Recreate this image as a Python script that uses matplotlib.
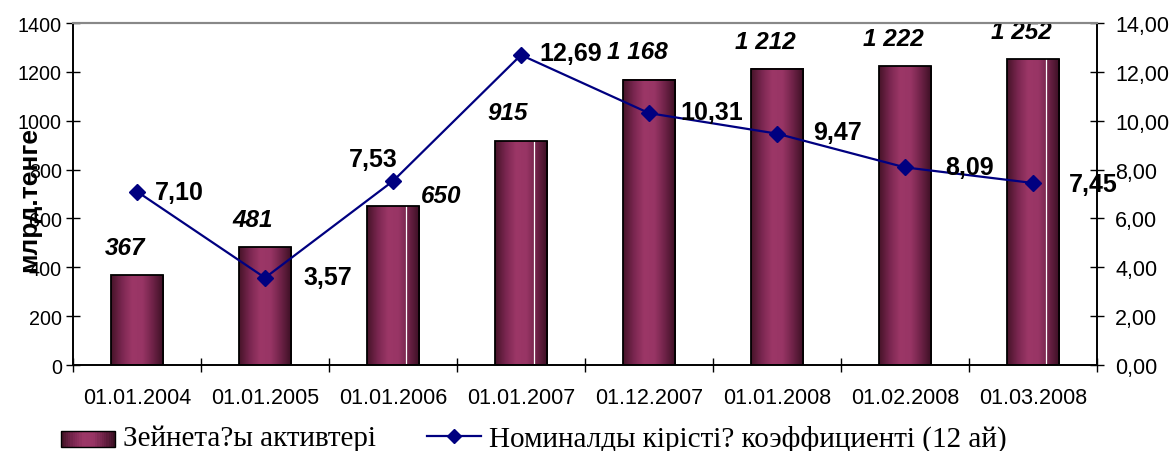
"""Pension assets (bars) and nominal yield coefficient (line), twin y axes."""

import numpy as np
import matplotlib.pyplot as plt
from matplotlib.colors import LinearSegmentedColormap
from matplotlib.legend_handler import HandlerBase
from matplotlib.patches import Rectangle
from matplotlib.lines import Line2D
from matplotlib.ticker import FuncFormatter, MultipleLocator

# ------------------------------
# Data
# ------------------------------

dates = ["01.01.2004", "01.01.2005", "01.01.2006", "01.01.2007",
         "01.12.2007", "01.01.2008", "01.02.2008", "01.03.2008"]
assets = [367, 481, 650, 915, 1168, 1212, 1222, 1252]
coef = [7.10, 3.57, 7.53, 12.69, 10.31, 9.47, 8.09, 7.45]

bar_label_off = [(-12, 28), (-12, 28), (48, 11), (-13, 29),
                 (-12, 28), (-12, 27), (-12, 28), (-12, 28)]
line_label_off = [(42, 0), (63, 1), (-20, 22), (50, 2),
                  (63, 1), (60, 2), (65, 0), (60, -1)]
# bars that show a thin white streak in the original rendering
streak_bars = [2, 3, 7]

bar_name = "Зейнета?ы активтері"
line_name = "Номиналды кірісті? коэффициенті (12 ай)"

# ------------------------------
# Style
# ------------------------------

plt.rcParams["font.family"] = ["Liberation Sans", "DejaVu Sans"]
plum = LinearSegmentedColormap.from_list(
    "plum", ["#471429", "#7a2650", "#9c3767", "#983565", "#6e2247", "#3b0f23"])
navy = "#000080"

fig = plt.figure(figsize=(11.71, 4.52), dpi=100)
ax = fig.add_axes([73 / 1171, 1 - 366 / 452, 1024 / 1171, 342 / 452])
ax2 = ax.twinx()

x = np.arange(len(dates))
width = 0.41

# gradient bars
grad = np.linspace(0, 1, 64).reshape(1, -1)
bars = ax.bar(x, assets, width=width, facecolor="none", edgecolor="black",
              linewidth=1.3, zorder=3)
for i, b in enumerate(bars):
    x0, w, h = b.get_x(), b.get_width(), b.get_height()
    ax.imshow(grad, extent=[x0, x0 + w, 0, h], aspect="auto", cmap=plum,
              zorder=2, interpolation="bilinear")
    if i in streak_bars:
        ax.plot([x0 + 0.75 * w] * 2, [0, h], color="white", linewidth=0.9, zorder=2.5)

ax.set_xlim(-0.5, len(dates) - 0.5)
ax.set_ylim(0, 1400)
ax.yaxis.set_major_locator(MultipleLocator(200))

for xi, v, (dx, dy) in zip(x, assets, bar_label_off):
    txt = f"{v:,}".replace(",", " ")
    ax.annotate(txt, (xi, v), xytext=(dx, dy), textcoords="offset pixels",
                ha="center", va="center", fontsize=17.5, fontweight="bold",
                fontstyle="italic", zorder=5)

# line on secondary axis
ax2.plot(x, coef, color=navy, linewidth=1.6, marker="D", markersize=8,
         markerfacecolor=navy, markeredgecolor=navy, zorder=4)
ax2.set_ylim(0, 14)
ax2.yaxis.set_major_locator(MultipleLocator(2))
ax2.yaxis.set_major_formatter(FuncFormatter(lambda v, p: f"{v:.2f}".replace(".", ",")))

for xi, v, (dx, dy) in zip(x, coef, line_label_off):
    ax2.annotate(f"{v:.2f}".replace(".", ","), (xi, v), xytext=(dx, dy),
                 textcoords="offset pixels", ha="center", va="center",
                 fontsize=18, fontweight="bold", zorder=5)

# axes cosmetics
ax.set_xticks(np.arange(-0.5, len(dates), 1))
ax.set_xticklabels([])
ax.set_xticks(x, minor=True)
ax.set_xticklabels(dates, minor=True, fontsize=15.5)
ax.tick_params(axis="x", which="major", direction="inout", length=10, width=1)
ax.tick_params(axis="x", which="minor", length=0, pad=16)
ax.tick_params(axis="y", direction="inout", length=10, width=1, labelsize=14.2, pad=3)
ax2.tick_params(axis="y", direction="inout", length=10, width=1, labelsize=15.5, pad=8)

for a in (ax, ax2):
    a.spines["top"].set_color("#888888")
    a.spines["top"].set_linewidth(1.5)
    a.spines["left"].set_linewidth(1.2)
    a.spines["right"].set_linewidth(1.2)
    a.spines["bottom"].set_linewidth(1.2)

fig.text(29 / 1171, 1 - 200 / 452, "млрд.тенге", rotation=90, ha="center",
         va="center", fontsize=19, fontweight="bold")

# legend with gradient swatch
class GradientHandler(HandlerBase):
    def create_artists(self, legend, orig, xd, yd, w, h, fs, trans):
        n = 24
        arts = []
        for i in range(n):
            arts.append(Rectangle((xd + w * i / n, yd), w / n + 0.3, h,
                                  facecolor=plum(i / (n - 1)), edgecolor="none",
                                  transform=trans))
        arts.append(Rectangle((xd, yd), w, h, facecolor="none",
                              edgecolor="black", linewidth=1, transform=trans))
        return arts

bar_handle = Rectangle((0, 0), 1, 1)
line_handle = Line2D([], [], color=navy, marker="D", markersize=7, linewidth=1.6)
fig.legend([bar_handle, line_handle], [bar_name, line_name],
           handler_map={Rectangle: GradientHandler()},
           loc="center left", bbox_to_anchor=(41 / 1171, 1 - 439 / 452),
           ncol=2, frameon=False, handlelength=1.85, handleheight=0.5,
           columnspacing=1.75, handletextpad=0.27, borderpad=0.2,
           prop={"family": "Liberation Serif", "size": 21})

fig.savefig("out.png", dpi=100)
